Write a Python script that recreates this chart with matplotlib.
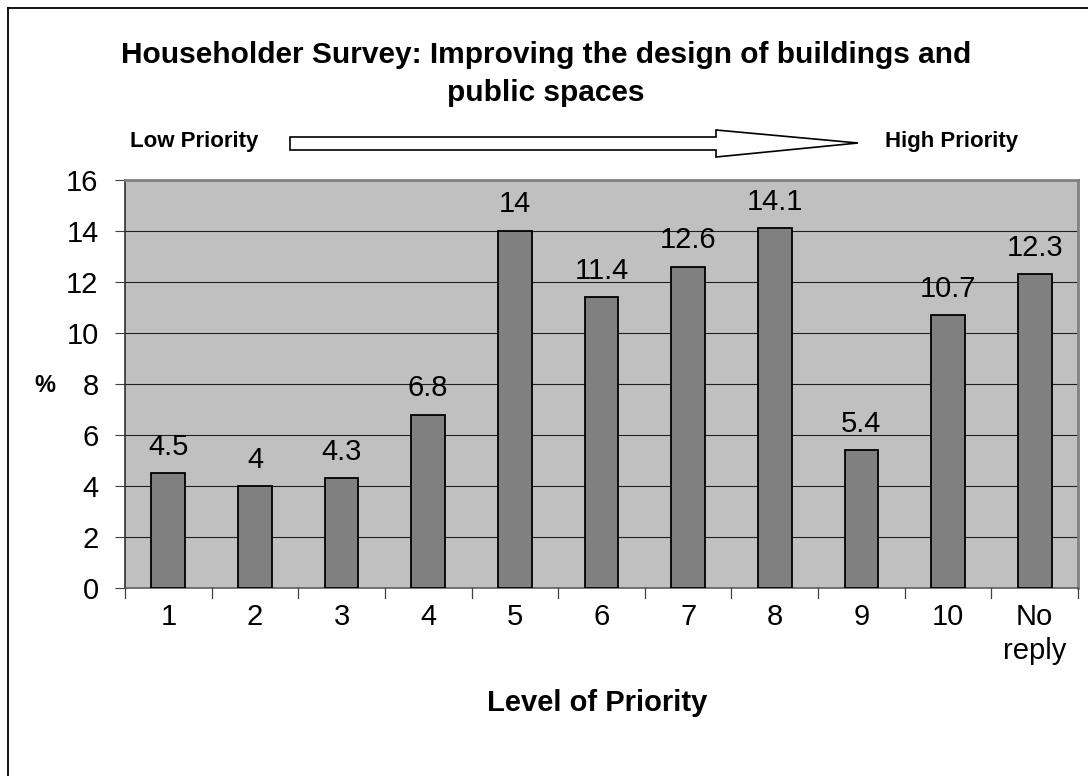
import matplotlib
matplotlib.use("Agg")
import matplotlib.pyplot as plt
from matplotlib.patches import Polygon
from matplotlib.lines import Line2D

plt.rcParams['font.family'] = ['Liberation Sans', 'DejaVu Sans']

categories = ["1", "2", "3", "4", "5", "6", "7", "8", "9", "10", "No\nreply"]
values = [4.5, 4, 4.3, 6.8, 14, 11.4, 12.6, 14.1, 5.4, 10.7, 12.3]
value_labels = ["4.5", "4", "4.3", "6.8", "14", "11.4", "12.6", "14.1", "5.4", "10.7", "12.3"]
yticks = [0, 2, 4, 6, 8, 10, 12, 14, 16]

W, H = 1088, 776
fig = plt.figure(figsize=(W / 100, H / 100), dpi=100)

def fx(px):
    return px / W

def fy(py):
    return 1 - py / H

# figure border (top and left visible)
fig.add_artist(Line2D([fx(8), fx(8)], [fy(8), 0], transform=fig.transFigure,
                      color='black', linewidth=1.3))
fig.add_artist(Line2D([fx(8), 1], [fy(8), fy(8)], transform=fig.transFigure,
                      color='black', linewidth=1.3))

ax = fig.add_axes([fx(125), fy(588), fx(1078) - fx(125), fy(180) - fy(588)])
ax.set_facecolor('#c0c0c0')
x = list(range(len(categories)))
ax.bar(x, values, width=0.39, color='#808080', edgecolor='black', linewidth=1.3, zorder=3)
ax.set_xlim(-0.5, len(categories) - 0.5)
ax.set_ylim(0, 16)
ax.set_yticks(yticks)
ax.set_yticklabels([str(t) for t in yticks], fontsize=21)
ax.yaxis.grid(True, color='#202020', linewidth=0.8, zorder=0)
ax.set_axisbelow(True)
ax.set_xticks(x)
ax.set_xticklabels(categories, fontsize=21, linespacing=1.25)
ax.tick_params(axis='x', length=0, pad=11)
ax.tick_params(axis='y', length=7, width=0.8, pad=12, direction='out', color='#404040')
ax.spines['top'].set_color('#808080')
ax.spines['right'].set_color('#808080')
ax.spines['top'].set_linewidth(2)
ax.spines['right'].set_linewidth(2)
ax.spines['left'].set_color('#303030')
ax.spines['bottom'].set_color('#606060')
ax.spines['bottom'].set_linewidth(1.2)
ax.spines['left'].set_linewidth(1.2)
# category boundary ticks
for b in range(len(categories) + 1):
    ax.plot([b - 0.5, b - 0.5], [0, -0.38], color='#404040', linewidth=0.9,
            clip_on=False, zorder=4)
for xi, v, lab in zip(x, values, value_labels):
    ax.annotate(lab, (xi, v), xytext=(0, 9), textcoords='offset points',
                ha='center', va='bottom', fontsize=21)

fig.text(fx(546), fy(55), "Householder Survey: Improving the design of buildings and",
         ha='center', va='center', fontsize=21.5, fontweight='bold')
fig.text(fx(546), fy(93), "public spaces",
         ha='center', va='center', fontsize=21.5, fontweight='bold')
fig.text(fx(194), fy(142), "Low Priority", ha='center', va='center', fontsize=16, fontweight='bold')
fig.text(fx(952), fy(142), "High Priority", ha='center', va='center', fontsize=16, fontweight='bold')
fig.text(fx(45), fy(385), "%", ha='center', va='center', fontsize=17, fontweight='bold')
fig.text(fx(597), fy(703), "Level of Priority", ha='center', va='center', fontsize=21, fontweight='bold')

arrow_pts = [(290, 137), (716, 137), (716, 130), (858, 143), (716, 157), (716, 150), (290, 150)]
fig.add_artist(Polygon([(fx(a), fy(b)) for a, b in arrow_pts], closed=True,
                       transform=fig.transFigure, facecolor='white',
                       edgecolor='black', linewidth=1.2))

fig.savefig("out.png", dpi=100)
